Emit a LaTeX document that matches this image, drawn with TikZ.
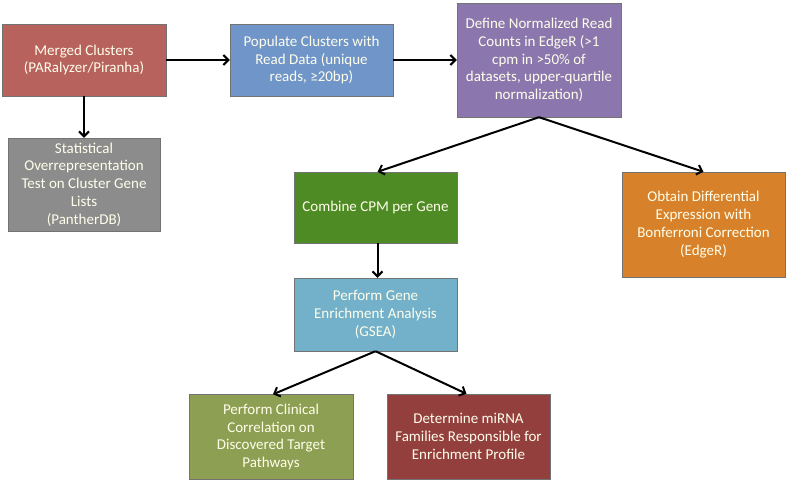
\documentclass[tikz,border=0pt]{standalone}
\usepackage{fontspec}
\setmainfont{Carlito}
\usepackage{xcolor}
\usetikzlibrary{arrows.meta}
\definecolor{mergedred}{HTML}{B8625E}
\definecolor{popblue}{HTML}{7095C9}
\definecolor{defpurple}{HTML}{8B77AE}
\definecolor{statgray}{HTML}{8C8C8C}
\definecolor{cpmgreen}{HTML}{4F8B25}
\definecolor{edgeorange}{HTML}{D7822A}
\definecolor{gsealblue}{HTML}{73B1CB}
\definecolor{clinolive}{HTML}{8D9F52}
\definecolor{mirnared}{HTML}{933F3E}
\tikzset{
    flow-box/.style = {draw=black!55, fill=#1, thin, rectangle, inner sep=2pt, align=center, text=white!92!yellow, font=\fontsize{15}{17.8}\selectfont},
    flow-arrow/.style = {draw=black, line width=2pt, -{Straight Barb[length=5pt,width=10pt,line width=2pt]}},
}
\begin{document}
\begin{tikzpicture}[x=1pt,y=-1pt]
\useasboundingbox (0,0) rectangle (787,483);
\node [flow-box=mergedred, minimum width=164pt, minimum height=72pt] (merged) at (84,60) {Merged Clusters\\(PARalyzer/Piranha)};
\node [flow-box=popblue, minimum width=163pt, minimum height=72pt] (populate) at (311.5,60) {Populate Clusters with\\Read Data (unique\\reads, ≥20bp)};
\node [flow-box=defpurple, minimum width=164pt, minimum height=114pt] (define) at (539,60) {Define Normalized Read\\Counts in EdgeR (>1\\cpm in >50\% of\\datasets, upper-quartile\\normalization)};
\node [flow-box=statgray, minimum width=152pt, minimum height=93pt] (stat) at (84,184.5) {Statistical\\Overrepresentation\\Test on Cluster Gene\\Lists\\(PantherDB)};
\node [flow-box=cpmgreen, minimum width=163pt, minimum height=71pt] (combine) at (375.5,207.5) {Combine CPM per Gene};
\node [flow-box=edgeorange, minimum width=163pt, minimum height=105pt] (obtain) at (703.5,224.5) {Obtain Differential\\Expression with\\Bonferroni Correction\\(EdgeR)};
\node [flow-box=gsealblue, minimum width=163pt, minimum height=73pt] (gsea) at (375.5,314.5) {Perform Gene\\Enrichment Analysis\\(GSEA)};
\node [flow-box=clinolive, minimum width=164pt, minimum height=85pt] (clinical) at (271,437) {Perform Clinical\\Correlation on\\Discovered Target\\Pathways};
\node [flow-box=mirnared, minimum width=163pt, minimum height=85pt] (mirna) at (468.5,436.5) {Determine miRNA\\Families Responsible for\\Enrichment Profile};

\draw [flow-arrow] (merged) -- (populate);
\draw [flow-arrow] (populate.east) -- (define.west);
\draw [flow-arrow] (merged) -- (stat);
\draw [flow-arrow] (define.south) -- ([xshift=2pt]combine.north);
\draw [flow-arrow] (define.south) -- (obtain.north);
\draw [flow-arrow] ([xshift=2pt]combine.south) -- ([xshift=2pt]gsea.north);
\draw [flow-arrow] (gsea.south) -- ([xshift=2pt]clinical.north);
\draw [flow-arrow] (gsea.south) -- ([xshift=-2pt]mirna.north);
\end{tikzpicture}
\end{document}
